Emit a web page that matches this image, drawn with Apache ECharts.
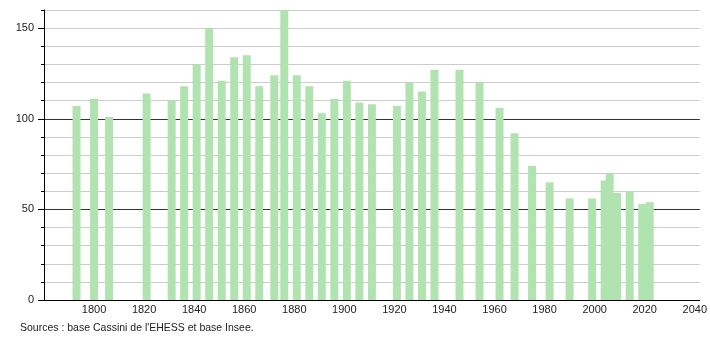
<!DOCTYPE html>
<html>
<head>
<meta charset="utf-8">
<script src="https://cdn.jsdelivr.net/npm/echarts@6/dist/echarts.min.js"></script>
<style>
html,body{margin:0;padding:0;background:#fff;}
#chart{width:710px;height:340px;}
</style>
</head>
<body>
<div id="chart"></div>
<script>
var years = [1793,1800,1806,1821,1831,1836,1841,1846,1851,1856,1861,1866,1872,1876,1881,1886,1891,1896,1901,1906,1911,1921,1926,1931,1936,1946,1954,1962,1968,1975,1982,1990,1999,2004,2006,2009,2014,2019,2022];
var population = [107,111,101,114,110,118,130,150,121,134,135,118,124,160,124,118,103,111,121,109,108,107,120,115,127,127,120,106,92,74,65,56,56,66,70,59,60,53,54];
var yMajorTicks = [0,50,100,150];
var xTickLabels = [1800,1820,1840,1860,1880,1900,1920,1940,1960,1980,2000,2020,2040];
var sourceText = "Sources : base Cassini de l'EHESS et base Insee.";

var chart = echarts.init(document.getElementById('chart'), null, {renderer:'canvas'});
var font = 'Liberation Sans, Arial, sans-serif';
var seriesData = years.map(function(y,i){ return [y, population[i]]; });

chart.setOption({
  animation:false,
  backgroundColor:'#fff',
  grid:{left:44,right:10,top:10,bottom:40,containLabel:false},
  xAxis:{
    type:'value', min:1780, max:2042, interval:20,
    axisLine:{show:true,onZero:false,lineStyle:{color:'#000',width:1}},
    axisTick:{show:false},
    splitLine:{show:false},
    axisLabel:{
      margin:4, fontSize:11, color:'#222', fontFamily:font,
      showMinLabel:false, showMaxLabel:true,
      formatter:function(v){ return xTickLabels.indexOf(v) >= 0 ? String(v) : ''; }
    }
  },
  yAxis:[{
    type:'value', min:0, max:160, interval:10, position:'left',
    axisLine:{show:true,lineStyle:{color:'#000',width:1}},
    axisTick:{show:true,length:3,lineStyle:{color:'#000'}},
    axisLabel:{show:false},
    splitLine:{show:true,lineStyle:{color:'#cccccc',width:1}}
  },{
    type:'value', min:0, max:160, interval:50, position:'left',
    axisLine:{show:false},
    axisTick:{show:true,length:6,lineStyle:{color:'#000'},customValues:yMajorTicks},
    axisLabel:{
      show:true, margin:10, fontSize:11, color:'#222', fontFamily:font,
      customValues:yMajorTicks,
      formatter:function(v){ return yMajorTicks.indexOf(v) >= 0 ? String(v) : ''; }
    },
    splitLine:{show:true,showMaxLine:false,lineStyle:{color:'#333333',width:1}}
  }],
  series:[{
    type:'bar',
    yAxisIndex:0,
    data:seriesData,
    barWidth:8,
    itemStyle:{color:'#b0e3b0'},
    z:5
  }],
  graphic:[{
    type:'text', left:20, top:323,
    style:{text:sourceText, fill:'#222', font:'10.5px ' + font}
  }]
});
</script>
</body>
</html>
